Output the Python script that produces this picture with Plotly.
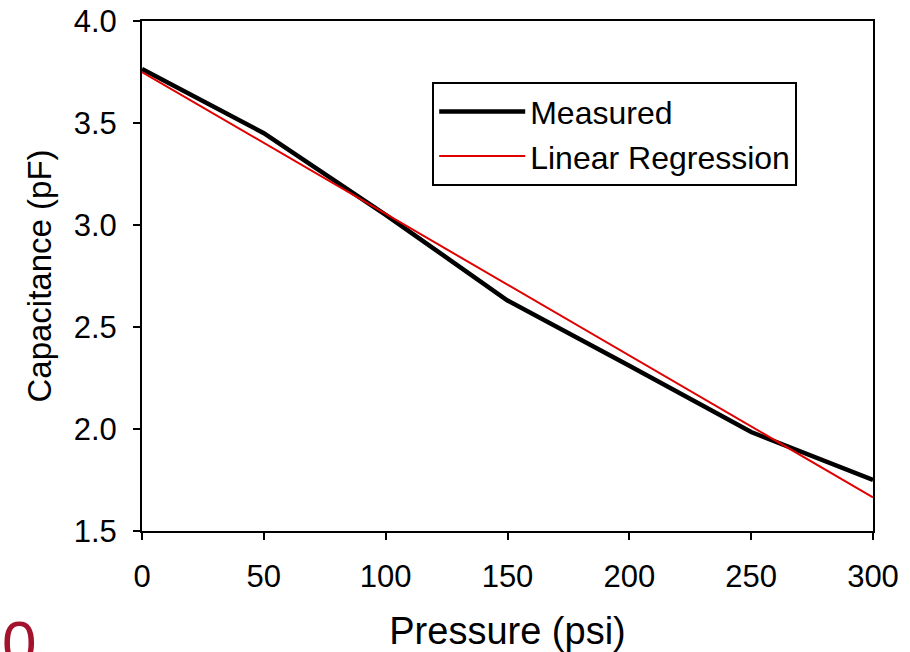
import plotly.graph_objects as go

pressure = [0, 50, 100, 150, 200, 250, 300]
measured = [3.765, 3.45, 3.05, 2.63, 2.31, 1.985, 1.75]
reg_pressure = [0, 300]
reg_cap = [3.75, 1.665]

FONT = "Arial, Liberation Sans, sans-serif"

fig = go.Figure()
fig.add_trace(go.Scatter(x=pressure, y=measured, mode="lines", name="Measured",
                         line=dict(color="black", width=4.5)))
fig.add_trace(go.Scatter(x=reg_pressure, y=reg_cap, mode="lines", name="Linear Regression",
                         line=dict(color="#e00000", width=2)))

axis_common = dict(showgrid=False, zeroline=False, showline=True, linecolor="black",
                   linewidth=2, mirror=True, ticks="outside", ticklen=7, tickwidth=2,
                   tickcolor="black", automargin=False,
                   tickfont=dict(family=FONT, size=31, color="black"))

fig.update_layout(
    width=910, height=652,
    margin=dict(l=142, r=37, t=21, b=121),
    paper_bgcolor="white", plot_bgcolor="white",
    font=dict(family=FONT, color="black"),
    xaxis=dict(range=[0, 300], tickvals=[0, 50, 100, 150, 200, 250, 300],
               ticklabelstandoff=10,
               title=dict(text="Pressure (psi)", font=dict(family=FONT, size=38), standoff=24),
               **axis_common),
    yaxis=dict(range=[1.5, 4.0], tickvals=[1.5, 2.0, 2.5, 3.0, 3.5, 4.0], tickformat=".1f",
               ticklabelstandoff=10,
               title=dict(text="Capacitance (pF)", font=dict(family=FONT, size=33), standoff=12),
               **axis_common),
    legend=dict(x=0.397, y=0.88, xanchor="left", yanchor="top",
                bordercolor="black", borderwidth=2, bgcolor="white",
                font=dict(family=FONT, size=32, color="black"), itemwidth=86),
    showlegend=True,
)

fig.add_annotation(text="0", xref="paper", yref="paper", x=-0.194, y=-0.147,
                   xanchor="left", yanchor="top", showarrow=False,
                   font=dict(family=FONT, size=62, color="#a3132d"))

fig.write_html("out.html")
